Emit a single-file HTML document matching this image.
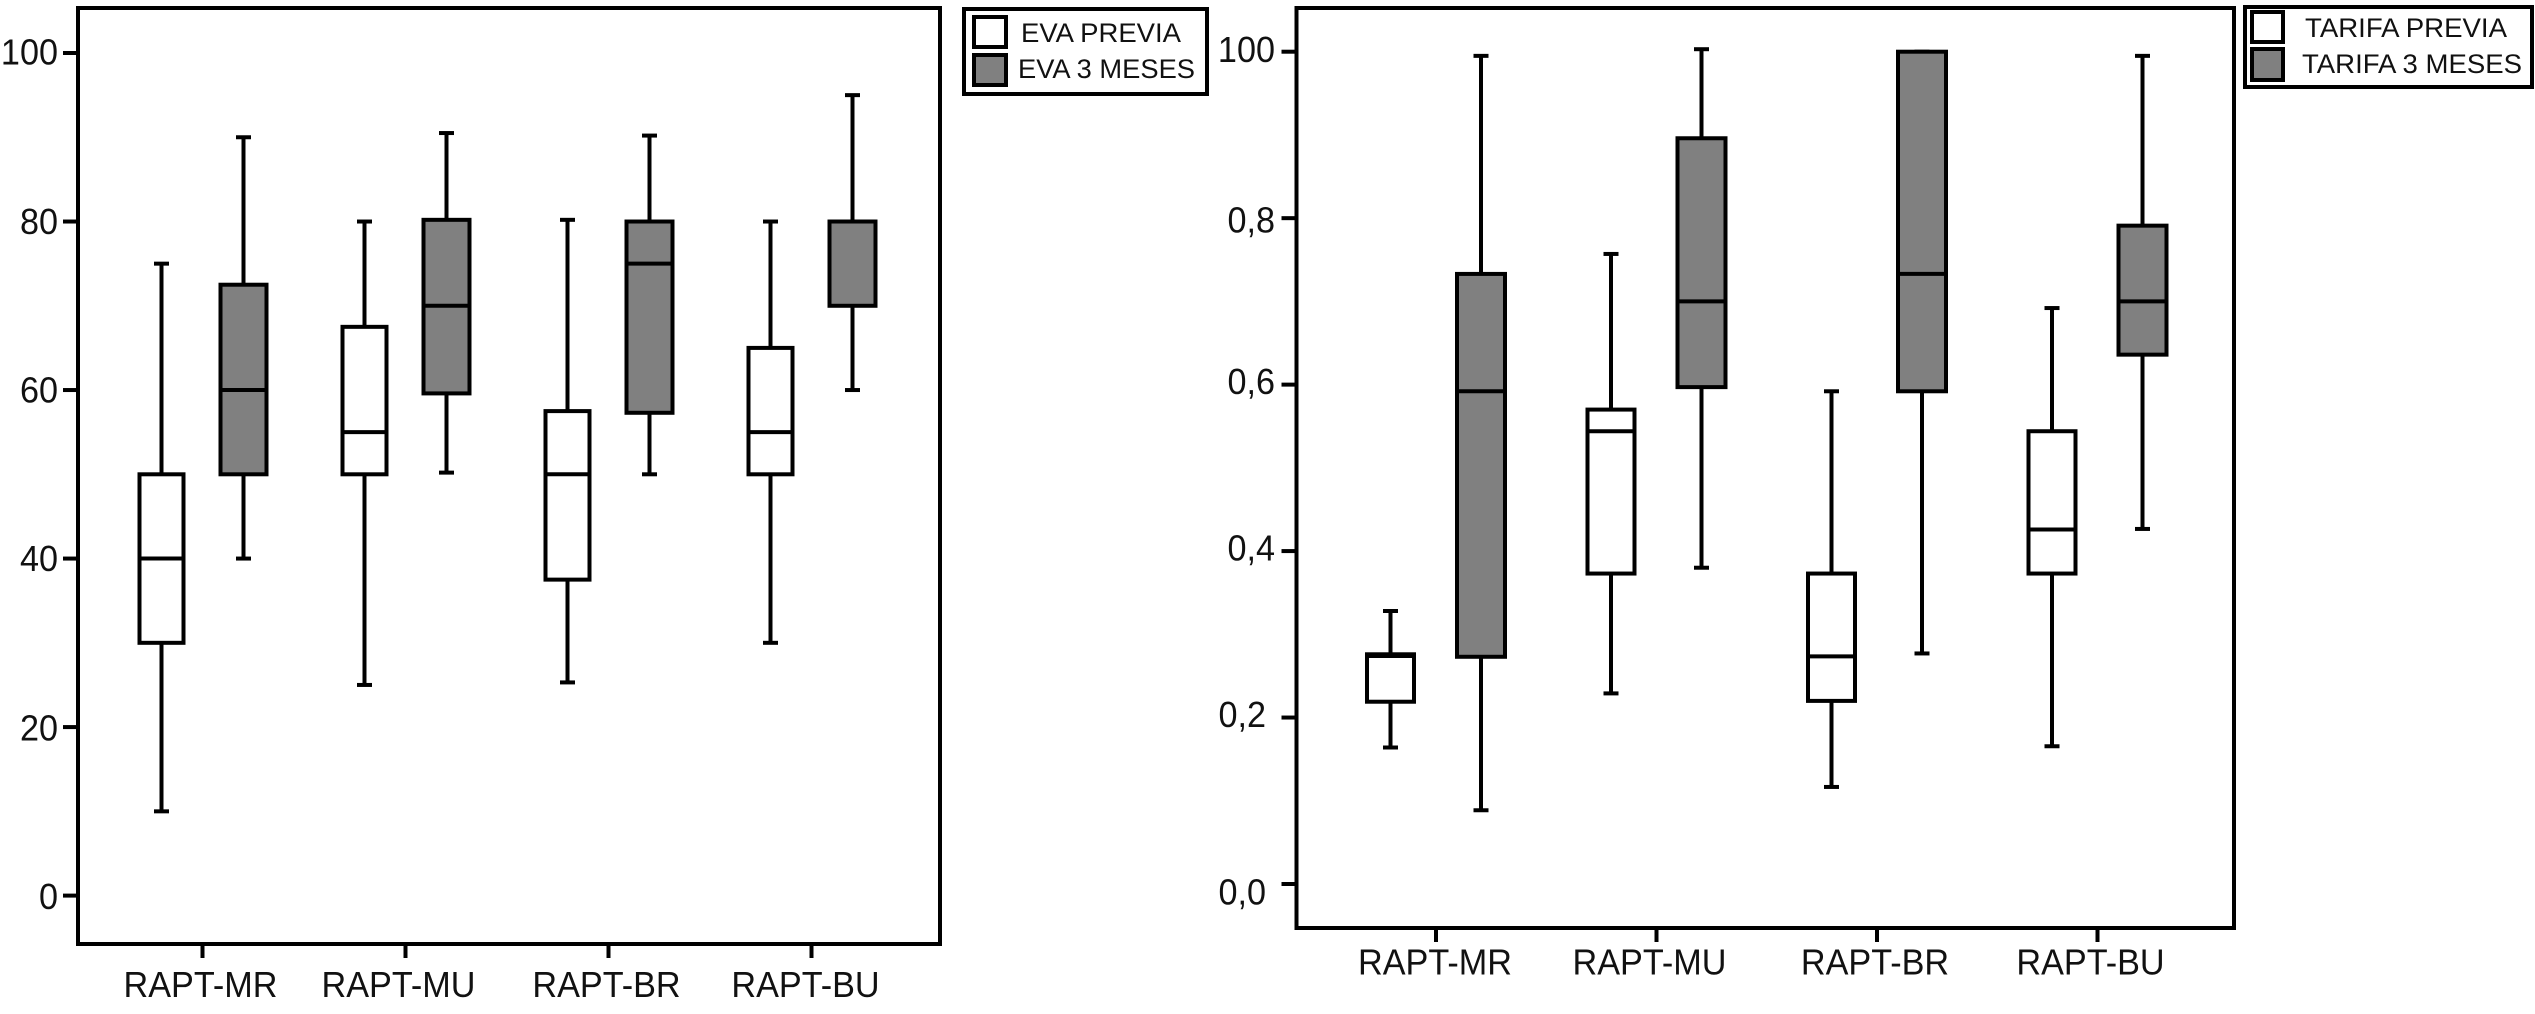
<!DOCTYPE html>
<html lang="es">
<head>
<meta charset="utf-8">
<title>Boxplots EVA y TARIFA</title>
<style>
html,body{margin:0;padding:0;background:#fff;width:2535px;height:1014px;overflow:hidden}
svg{display:block}
text{font-family:"Liberation Sans",Arial,sans-serif;fill:#111}
</style>
</head>
<body>
<svg id="figure" xmlns="http://www.w3.org/2000/svg" width="2535" height="1014" viewBox="0 0 2535 1014">
  <g>
    <rect x="964" y="9" width="243" height="85" fill="#fff" stroke="#000" stroke-width="4"/>
    <rect x="974" y="17" width="32" height="30" fill="#fff" stroke="#000" stroke-width="4"/>
    <rect x="974" y="55" width="32" height="30" fill="#808080" stroke="#000" stroke-width="4"/>
    <text x="1021" y="42" font-size="26.5" textLength="160" lengthAdjust="spacingAndGlyphs">EVA PREVIA</text>
    <text x="1018" y="78" font-size="26.5" textLength="177" lengthAdjust="spacingAndGlyphs">EVA 3 MESES</text>
  </g>
  <g>
    <rect x="2245" y="7" width="287" height="80" fill="#fff" stroke="#000" stroke-width="4"/>
    <rect x="2252" y="12" width="31" height="30" fill="#fff" stroke="#000" stroke-width="4"/>
    <rect x="2252" y="49" width="31" height="31" fill="#808080" stroke="#000" stroke-width="4"/>
    <text x="2305" y="37" font-size="26.5" textLength="202" lengthAdjust="spacingAndGlyphs">TARIFA PREVIA</text>
    <text x="2302" y="73" font-size="26.5" textLength="220" lengthAdjust="spacingAndGlyphs">TARIFA 3 MESES</text>
  </g>
</svg>
<script>
// Shared categories
const categories = ["RAPT-MR", "RAPT-MU", "RAPT-BR", "RAPT-BU"];

// EVA chart values: [whisker high, Q3, median, Q1, whisker low]
const evaPrevia = [
  [75, 50, 40, 30, 10],
  [80, 67.5, 55, 50, 25],
  [80.2, 57.5, 50, 37.5, 25.3],
  [80, 65, 55, 50, 30]
];
const eva3Meses = [
  [90, 72.5, 60, 50, 40],
  [90.5, 80.2, 70, 59.6, 50.2],
  [90.2, 80, 75, 57.3, 50],
  [95, 80, 80, 70, 60]
];
const evaTickValues = [0, 20, 40, 60, 80, 100];
const evaTickLabels = ["0", "20", "40", "60", "80", "100"];

// TARIFA chart values: [whisker high, Q3, median, Q1, whisker low]
const tarifaPrevia = [
  [0.328, 0.276, 0.274, 0.219, 0.164],
  [0.757, 0.57, 0.544, 0.373, 0.229],
  [0.592, 0.373, 0.2735, 0.22, 0.1166],
  [0.692, 0.544, 0.426, 0.373, 0.1655]
];
const tarifa3Meses = [
  [0.995, 0.733, 0.592, 0.273, 0.0886],
  [1.003, 0.896, 0.7, 0.597, 0.38],
  [1.0, 1.0, 0.733, 0.592, 0.277],
  [0.995, 0.791, 0.7, 0.636, 0.4266]
];
const tarifaTickValues = [0, 0.2, 0.4, 0.6, 0.8, 1];
const tarifaTickLabels = ["0,0", "0,2", "0,4", "0,6", "0,8", "100"];

const svg = document.getElementById("figure");
const NS = "http://www.w3.org/2000/svg";
const SQUEEZE = 0.95;

function make(parent, tag, attrs) {
  const node = document.createElementNS(NS, tag);
  for (const k in attrs) node.setAttribute(k, attrs[k]);
  parent.appendChild(node);
  return node;
}

function squeeze(textNode) {
  const w = textNode.getComputedTextLength();
  textNode.setAttribute("textLength", (w * SQUEEZE).toFixed(2));
  textNode.setAttribute("lengthAdjust", "spacingAndGlyphs");
}

function drawBox(group, stats, cx, halfW, fill, yScale, capHalf) {
  const hi = yScale(stats[0]), q3 = yScale(stats[1]), med = yScale(stats[2]), q1 = yScale(stats[3]), lo = yScale(stats[4]);
  const wUp = make(group, "line", {x1: cx, x2: cx, y1: hi, y2: q3, stroke: "#000", "stroke-width": 4});
  
  
  const wDn = make(group, "line", {x1: cx, x2: cx, y1: q1, y2: lo, stroke: "#000", "stroke-width": 4});
  
  
  const capUp = make(group, "line", {x1: cx - capHalf, x2: cx + capHalf, y1: hi, y2: hi, stroke: "#000", "stroke-width": 4});
  
  
  const capDn = make(group, "line", {x1: cx - capHalf, x2: cx + capHalf, y1: lo, y2: lo, stroke: "#000", "stroke-width": 4});
  
  
  const box = make(group, "rect", {x: cx - halfW, y: q3, width: halfW * 2, height: q1 - q3, fill: fill, stroke: "#000", "stroke-width": 4});
  
  
  const m = make(group, "line", {x1: cx - halfW, x2: cx + halfW, y1: med, y2: med, stroke: "#000", "stroke-width": 4});
  
  
}

function drawChart(cfg) {
  const yScale = v => cfg.y0 + (cfg.y1 - cfg.y0) * (v - cfg.vMin) / (cfg.vMax - cfg.vMin);
  const xScale = i => cfg.x0 + cfg.step * i;

  const chart = make(svg, "g", {});
  
  

  cfg.tickValues.forEach((v, i) => {
    const y = yScale(v);
    const t = make(chart, "line", {x1: cfg.left - 15, x2: cfg.left, y1: y, y2: y, stroke: "#000", "stroke-width": 4});
    
    
    const nudge = cfg.labelNudge[i];
    const lab = make(chart, "text", {x: cfg.labelRight + nudge[0], y: y + 12.5 + nudge[1], "text-anchor": "end", "font-size": 36});
    lab.textContent = cfg.tickLabels[i];
    
    
    squeeze(lab);
  });

  const frame = make(chart, "rect", {x: cfg.left, y: cfg.top, width: cfg.right - cfg.left, height: cfg.bottom - cfg.top, fill: "none", stroke: "#000", "stroke-width": 4});
  
  

  categories.forEach((c, i) => {
    const cx = xScale(i);
    const t = make(chart, "line", {x1: cx, x2: cx, y1: cfg.bottom, y2: cfg.bottom + 14, stroke: "#000", "stroke-width": 4});
    
    
    const lab = make(chart, "text", {x: cx + cfg.xLabelDx[i], y: cfg.bottom + cfg.xLabelGap, "text-anchor": "middle", "font-size": 36});
    lab.textContent = c;
    
    
    squeeze(lab);

    const gPrev = make(chart, "g", {});
    
    
    drawBox(gPrev, cfg.previa[i], cx - cfg.offsetPrev, cfg.halfPrev, "#fff", yScale, 7.5);

    const g3 = make(chart, "g", {});
    
    
    drawBox(g3, cfg.meses[i], cx + cfg.offsetMeses, cfg.halfMeses, "#808080", yScale, 7.5);
  });
}

drawChart({
  name: "eva", previa: evaPrevia, meses: eva3Meses, tickValues: evaTickValues, tickLabels: evaTickLabels,
  vMin: 0, vMax: 100, y0: 895.6, y1: 53,
  left: 78, right: 940, top: 8, bottom: 944,
  x0: 202.5, step: 203, offsetPrev: 41, offsetMeses: 41, halfPrev: 22, halfMeses: 23,
  labelRight: 58, labelNudge: [[0,1],[0,1],[0,0],[0,0],[0,0],[0,-1]],
  xLabelDx: [-2, -7, -2, -6], xLabelGap: 53
});

drawChart({
  name: "tarifa", previa: tarifaPrevia, meses: tarifa3Meses, tickValues: tarifaTickValues, tickLabels: tarifaTickLabels,
  vMin: 0, vMax: 1, y0: 884, y1: 51.7,
  left: 1296.5, right: 2234, top: 8, bottom: 928,
  x0: 1436, step: 220.5, offsetPrev: 45.5, offsetMeses: 45, halfPrev: 23.5, halfMeses: 24,
  labelRight: 1275, labelNudge: [[-9,8],[-9,-3],[0,-3],[0,-3],[0,2],[0,-2]],
  xLabelDx: [-1, -7, -2, -7], xLabelGap: 46.5
});
</script>
</body>
</html>
